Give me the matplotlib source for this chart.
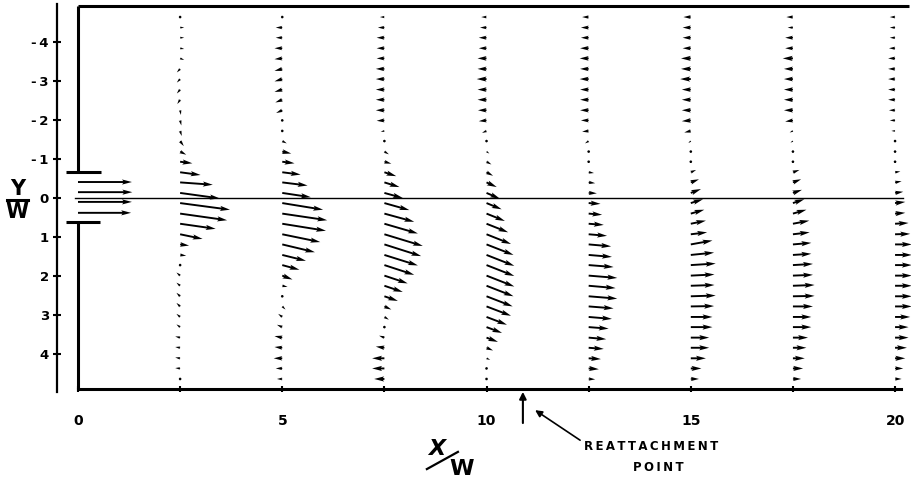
import numpy as np
import matplotlib
matplotlib.use('Agg')
import matplotlib.pyplot as plt

plt.rcParams['axes.unicode_minus'] = False

# measurement stations (x/W) and rows (y/W), top to bottom
stations = [2.5, 5, 7.5, 10, 12.5, 15, 17.5, 20]
row_y = [-4.64, -4.37, -4.11, -3.84, -3.58, -3.31, -3.05, -2.78, -2.52, -2.25, -1.99, -1.72,
         -1.46, -1.19, -0.93, -0.66, -0.40, -0.13, 0.13, 0.40, 0.66, 0.93, 1.19, 1.46,
         1.72, 1.99, 2.25, 2.52, 2.78, 3.05, 3.31, 3.58, 3.84, 4.11, 4.37, 4.64]

# velocity components (units of W per arrow length)
u_25 = [0.04, 0.10, 0.10, 0.10, 0.10, -0.08, -0.08, -0.08, -0.07, 0.02, 0.03, 0.04,
        0.09, 0.15, 0.30, 0.50, 0.80, 0.97, 1.22, 1.15, 0.87, 0.55, 0.22, 0.15,
        0.05, -0.09, -0.09, -0.09, -0.09, -0.09, -0.09, -0.12, -0.12, -0.12, -0.12, -0.04]
v_25 = [0.0, 0.0, 0.0, 0.02, 0.04, 0.09, 0.09, 0.10, 0.11, 0.12, 0.13, 0.13,
        0.13, 0.08, 0.04, 0.07, 0.06, 0.14, 0.17, 0.17, 0.13, 0.12, 0.03, 0.02,
        0.0, -0.08, -0.08, -0.09, -0.09, -0.08, -0.07, -0.03, -0.02, -0.02, -0.01, 0.0]

u_5 = [-0.04, -0.16, -0.16, -0.19, -0.19, -0.19, -0.19, -0.19, -0.17, -0.15, -0.03, 0.03,
       0.11, 0.22, 0.30, 0.45, 0.62, 0.70, 1.00, 1.10, 1.07, 0.93, 0.80, 0.58,
       0.42, 0.25, 0.13, 0.04, 0.08, -0.10, -0.13, -0.19, -0.19, -0.21, -0.16, -0.13]
v_5 = [0.0, 0.0, 0.0, 0.0, 0.02, 0.05, 0.06, 0.06, 0.07, 0.07, 0.06, 0.0,
       0.06, 0.05, 0.04, 0.06, 0.08, 0.11, 0.17, 0.17, 0.18, 0.20, 0.20, 0.15,
       0.12, 0.10, 0.03, 0.0, 0.08, -0.08, -0.06, -0.04, -0.02, 0.0, 0.0, 0.0]

u_75 = [-0.11, -0.16, -0.19, -0.19, -0.19, -0.21, -0.21, -0.21, -0.21, -0.21, -0.19, -0.09,
        0.04, 0.11, 0.17, 0.29, 0.37, 0.45, 0.61, 0.73, 0.82, 0.94, 0.90, 0.82,
        0.73, 0.57, 0.45, 0.33, 0.17, 0.11, 0.04, -0.13, -0.21, -0.30, -0.30, -0.25]
v_75 = [0.0, 0.0, 0.0, 0.0, 0.0, 0.0, 0.0, 0.0, 0.0, 0.0, 0.01, 0.02,
        0.02, 0.07, 0.05, 0.10, 0.12, 0.13, 0.18, 0.21, 0.25, 0.30, 0.30, 0.27,
        0.25, 0.20, 0.16, 0.12, 0.08, 0.07, 0.03, -0.05, -0.03, 0.0, 0.0, 0.0]

u_10 = [-0.13, -0.16, -0.19, -0.19, -0.22, -0.22, -0.24, -0.22, -0.22, -0.21, -0.19, -0.11,
        -0.05, 0.07, 0.12, 0.16, 0.25, 0.33, 0.37, 0.45, 0.53, 0.60, 0.66, 0.68,
        0.68, 0.68, 0.66, 0.64, 0.60, 0.50, 0.38, 0.28, 0.16, 0.09, 0.04, 0.04]
v_10 = [0.0, 0.0, 0.0, 0.0, 0.0, 0.0, 0.0, 0.0, 0.0, 0.0, 0.02, 0.05,
        0.04, 0.05, 0.07, 0.09, 0.12, 0.15, 0.16, 0.19, 0.22, 0.25, 0.27, 0.28,
        0.28, 0.28, 0.27, 0.26, 0.24, 0.20, 0.15, 0.11, 0.07, 0.04, 0.01, 0.0]

u_125 = [-0.16, -0.19, -0.19, -0.21, -0.22, -0.21, -0.22, -0.21, -0.21, -0.21, -0.19, -0.16,
         -0.09, 0.04, 0.04, 0.13, 0.16, 0.20, 0.29, 0.33, 0.37, 0.45, 0.55, 0.57,
         0.61, 0.70, 0.66, 0.70, 0.61, 0.57, 0.49, 0.43, 0.37, 0.30, 0.25, 0.16]
v_125 = [0.0, 0.0, 0.0, 0.0, 0.0, 0.0, 0.0, 0.0, 0.0, 0.0, 0.0, 0.02,
         0.06, 0.0, 0.0, 0.02, 0.02, 0.01, 0.02, 0.03, 0.03, 0.04, 0.05, 0.05,
         0.05, 0.06, 0.06, 0.06, 0.05, 0.05, 0.04, 0.04, 0.03, 0.02, 0.02, 0.01]

u_15 = [-0.18, -0.20, -0.20, -0.20, -0.24, -0.24, -0.26, -0.22, -0.22, -0.22, -0.22, -0.16,
        -0.06, 0.04, 0.04, 0.13, 0.20, 0.25, 0.30, 0.33, 0.37, 0.40, 0.53, 0.57,
        0.61, 0.58, 0.58, 0.61, 0.57, 0.53, 0.53, 0.45, 0.45, 0.37, 0.26, 0.20]
v_15 = [0.0, 0.0, 0.0, 0.0, 0.0, 0.0, 0.0, 0.0, 0.0, 0.0, 0.02, 0.04,
        0.05, 0.0, 0.0, -0.06, -0.08, -0.10, -0.10, -0.10, -0.08, -0.05, -0.10, -0.06,
        -0.04, -0.03, -0.02, -0.02, -0.01, 0.0, 0.0, 0.0, 0.0, 0.0, 0.0, 0.0]

u_175 = [-0.16, -0.13, -0.19, -0.19, -0.25, -0.22, -0.22, -0.22, -0.22, -0.22, -0.19, -0.08,
         -0.06, 0.04, 0.04, 0.16, 0.20, 0.22, 0.28, 0.33, 0.40, 0.41, 0.45, 0.45,
         0.49, 0.49, 0.53, 0.53, 0.49, 0.45, 0.45, 0.37, 0.33, 0.29, 0.25, 0.20]
v_175 = [0.0, 0.0, 0.0, 0.0, 0.0, 0.0, 0.0, 0.0, 0.0, 0.0, 0.03, 0.04,
         0.04, 0.0, 0.0, -0.06, -0.08, -0.08, -0.10, -0.10, -0.08, -0.05, -0.04, -0.03,
         -0.03, -0.02, -0.02, -0.01, 0.0, 0.0, 0.0, 0.0, 0.0, 0.0, 0.0, 0.0]

u_20 = [-0.13, -0.13, -0.13, -0.15, -0.17, -0.17, -0.17, -0.17, -0.17, -0.15, -0.13, -0.09,
        -0.05, 0.04, 0.04, 0.13, 0.16, 0.20, 0.25, 0.25, 0.33, 0.37, 0.41, 0.41,
        0.41, 0.41, 0.41, 0.41, 0.41, 0.37, 0.33, 0.33, 0.29, 0.25, 0.20, 0.16]
v_20 = [0.0, 0.0, 0.0, 0.0, 0.0, 0.0, 0.0, 0.0, 0.0, 0.0, 0.0, 0.0,
        0.0, 0.0, 0.0, -0.02, -0.03, -0.03, -0.03, -0.02, -0.02, -0.01, 0.0, 0.0,
        0.0, 0.0, 0.0, 0.0, 0.0, 0.0, 0.0, 0.0, 0.0, 0.0, 0.0, 0.0]

# jet exit profile at x/W = 0
exit_y = [-0.41, -0.15, 0.10, 0.38]
exit_u = [1.32, 1.33, 1.32, 1.30]

y_ticks = [-4, -3, -2, -1, 0, 1, 2, 3, 4]
x_ticks = [0, 5, 10, 15, 20]

u_all = [u_25, u_5, u_75, u_10, u_125, u_15, u_175, u_20]
v_all = [v_25, v_5, v_75, v_10, v_125, v_15, v_175, v_20]

X = np.repeat(stations, len(row_y))
Y = np.tile(row_y, len(stations))
U = np.concatenate(u_all)
V = np.concatenate(v_all)

fig = plt.figure(figsize=(9.11, 4.84), dpi=100)
ax = fig.add_axes([0, 0, 1, 1])
ax.set_xlim(-1.909, 20.39)
ax.set_ylim(7.333, -5.077)
ax.patch.set_alpha(0)

qkw = dict(angles='xy', scale_units='xy', scale=1, color='black',
           width=0.0021, headwidth=2.7, headlength=5.2, headaxislength=4.5,
           minlength=1.5, zorder=3)
ax.quiver(X, Y, U, V, **qkw)
ax.quiver(np.zeros(len(exit_y)), exit_y, exit_u, np.zeros(len(exit_y)), **qkw)

# walls
wall = dict(color='black', lw=2.2, solid_capstyle='butt')
ax.plot([0, 20.35], [-4.92, -4.92], **wall)
ax.plot([0, 0], [-4.92, -0.66], **wall)
ax.plot([-0.29, 0.57], [-0.66, -0.66], **wall)
ax.plot([-0.29, 0.55], [0.62, 0.62], **wall)
ax.plot([0, 0], [0.62, 4.9], **wall)
ax.plot([-0.07, 20.2], [0, 0], color='black', lw=1.0)

# axes
for s in ['top', 'right']:
    ax.spines[s].set_visible(False)
ax.spines['left'].set_position(('data', -0.51))
ax.spines['left'].set_bounds(-4.97, 4.97)
ax.spines['left'].set_linewidth(1.6)
ax.spines['bottom'].set_position(('data', 4.9))
ax.spines['bottom'].set_bounds(0, 20.15)
ax.spines['bottom'].set_linewidth(2.2)

ax.set_yticks(y_ticks)
ax.set_yticklabels([('-\u2009' + str(-t)) if t < 0 else str(t) for t in y_ticks],
                   fontsize=9.5, fontweight='bold')
ax.tick_params(axis='y', direction='inout', length=6, width=1.5, pad=3)
ax.set_xticks(x_ticks)
ax.set_xticks([2.5, 7.5, 12.5, 17.5], minor=True)
ax.set_xticklabels([str(t) for t in x_ticks], fontsize=10, fontweight='bold')
ax.tick_params(axis='x', which='both', direction='inout', length=4, width=1.5, pad=16)

# axis titles as stacked fractions
ax.text(-1.469, -0.23, 'Y', fontsize=15, fontweight='bold', ha='center', va='center')
ax.plot([-1.74, -1.22], [0.04, 0.04], color='black', lw=2.2, clip_on=False)
ax.text(-1.49, 0.36, 'W', fontsize=15, fontweight='bold', ha='center', va='center')

ax.text(8.79, 6.43, 'X', fontsize=16, fontweight='bold', style='italic', ha='center', va='center')
ax.plot([8.54, 9.30], [6.95, 6.51], color='black', lw=1.6)
ax.text(9.40, 6.95, 'W', fontsize=16, fontweight='bold', ha='center', va='center')

# reattachment marker
ax.annotate('', xy=(10.89, 4.97), xytext=(10.89, 5.77),
            arrowprops=dict(arrowstyle='-|>', color='black', lw=1.5,
                            mutation_scale=10, shrinkA=0, shrinkB=0))
ax.annotate('', xy=(11.19, 5.44), xytext=(12.29, 6.21),
            arrowprops=dict(arrowstyle='-|>', color='black', lw=1.2,
                            mutation_scale=10, shrinkA=0, shrinkB=0))
ax.text(14.03, 6.38, '\u2009'.join('REATTACHMENT'), fontsize=8.5, fontweight='bold',
        ha='center', va='center')
ax.text(14.2, 6.9, '\u2009'.join('POINT'), fontsize=8.5, fontweight='bold',
        ha='center', va='center')

fig.savefig('out.png', dpi=100)
